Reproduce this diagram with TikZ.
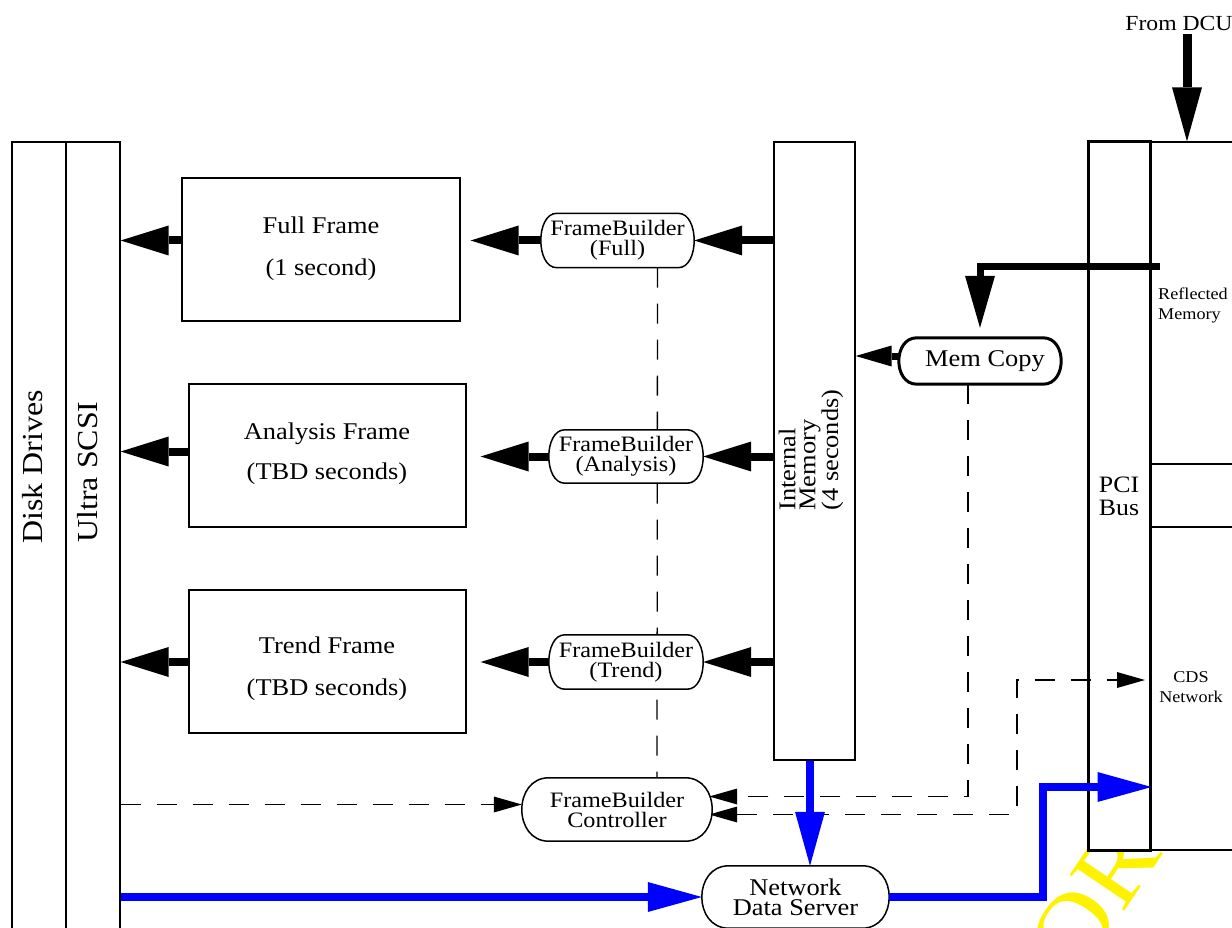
\documentclass[tikz,border=0pt]{standalone}
\usepackage{fontspec}
\setmainfont{Liberation Serif}[FakeStretch=1.1]
\usetikzlibrary{arrows.meta,calc}
\pgfdeclarelayer{mark}
\pgfdeclarelayer{under}
\pgfdeclarelayer{caps}
\pgfsetlayers{mark,under,caps,main}

\newcommand\fsz[2]{\fontsize{#1}{#2}\selectfont}

% outline of a pill-shaped node: straight top and bottom, half-elliptic ends
\newcommand\capsule[3][]{%
  \begin{pgfonlayer}{caps}
  \draw[fill=white,line width=1.5pt,#1]
    ($(#2.north west)+(#3,0)$) -- ($(#2.north east)+(-#3,0)$)
    .. controls ($(#2.north east)+(#3/3,0)$) and ($(#2.south east)+(#3/3,0)$) .. ($(#2.south east)+(-#3,0)$)
    -- ($(#2.south west)+(#3,0)$)
    .. controls ($(#2.south west)+(-#3/3,0)$) and ($(#2.north west)+(-#3/3,0)$) .. cycle;
  \end{pgfonlayer}}

\tikzset{
  box/.style={draw, line width=1.3pt, inner sep=0pt},
  pill/.style={inner sep=0pt, align=center, font=\fsz{22}{20}},
  bigarrow/.style={line width=8pt, -{Triangle[length=48pt,width=30pt,line width=0pt]}},
  midarrow/.style={line width=7pt, -{Triangle[length=36pt,width=21pt,line width=0pt]}},
  bluearrow/.style={blue, line width=8pt, -{Triangle[length=54pt,width=30pt,line width=0pt]}},
  dashline/.style={line width=1.3pt, dash pattern=on 20pt off 16pt},
  dasharrow/.style={dashline, -{Triangle[length=28pt,width=16pt,line width=0pt]}},
}

\begin{document}
\begin{tikzpicture}[x=1pt,y=-1pt,font=\fsz{22}{20}]
\useasboundingbox (0,0) rectangle (1232,928);
\clip (0,0) rectangle (1232,928);

% storage columns on the left
\node[box, minimum width=54pt, minimum height=800pt] (dd) at (39,542) {};
\node[box, minimum width=54pt, minimum height=800pt] (scsi) at (93,542) {};
\node[rotate=90, font=\fsz{29}{29}] (ddt) at (33,467) {Disk Drives};
\node[rotate=90, font=\fsz{29}{29}] (scsit) at (88,472) {Ultra SCSI};

% frame buffers
\node[box, minimum width=278pt, minimum height=143pt] (ff) at (321,249.5) {};
\node[font=\fsz{24}{42}, align=center] (fft) at (321,249) {Full Frame\\(1 second)};
\node[box, minimum width=277pt, minimum height=143pt] (af) at (327.5,455.5) {};
\node[font=\fsz{24}{40}, align=center] (aft) at (327,454) {Analysis Frame\\(TBD seconds)};
\node[box, minimum width=277pt, minimum height=143pt] (tf) at (327.5,661.5) {};
\node[font=\fsz{24}{42}, align=center] (tft) at (327,669) {Trend Frame\\(TBD seconds)};

% internal memory
\node[box, minimum width=81pt, minimum height=618pt] (im) at (814.5,451) {};
\node[rotate=90, align=left, font=\fsz{24}{20}] (imt) at (811,450) {Internal\\Memory\\(4 seconds)};

% processes
\node[pill, minimum width=153pt, minimum height=54pt] (fbf) at (617.5,240.5) {FrameBuilder\\(Full)};
\node[pill, minimum width=154pt, minimum height=53pt] (fba) at (626,456.5) {FrameBuilder\\(Analysis)};
\node[pill, minimum width=154pt, minimum height=54pt] (fbt) at (626,662) {FrameBuilder\\(Trend)};
\node[pill, minimum width=190pt, minimum height=63pt] (fbc) at (617,809.5) {FrameBuilder\\Controller};
\node[pill, minimum width=162pt, minimum height=46pt, font=\fsz{24}{24}] (mc) at (980,361) {\hspace*{10pt}Mem Copy};
\node[pill, minimum width=187pt, minimum height=62pt, font=\fsz{24}{20}] (nds) at (795.5,897) {Network\\Data Server};
\capsule{fbf}{16}
\capsule{fba}{16}
\capsule{fbt}{16}
\capsule{fbc}{27}
\capsule[line width=3pt]{mc}{18}
\capsule{nds}{27}

% bus side
\node[box, minimum width=100pt, minimum height=708pt] (rbox) at (1200,496) {};
\node[draw, line width=3pt, inner sep=0pt, minimum width=62pt, minimum height=708pt,
      align=center, font=\fsz{23.5}{23}] (pci) at (1119,496) {PCI\\Bus};
\draw[line width=1.3pt] (pci.east |- 0,464) -- (rbox.east |- 0,464);
\draw[line width=1.3pt] (pci.east |- 0,527) -- (rbox.east |- 0,527);
\node[font=\fsz{16.5}{20}, align=left] (rmt) at (1193,305) {Reflected\\Memory};
\node[font=\fsz{16.5}{20}, align=center] (cdst) at (1191,687) {CDS\\Network};
\node[font=\fsz{21.5}{22}] (dcu) at (1179,23) {From DCU};

% watermark, kept behind the bus boxes
\begin{pgfonlayer}{mark}
\node[yellow, rotate=56, inner sep=0pt, font=\fsz{100}{100}] (wm) at (1094,899) {OR};
\fill[white] (pci.north west) rectangle (rbox.south east);
\end{pgfonlayer}

% control paths
\begin{pgfonlayer}{under}
\draw[dashline] ($(fbf.south)+(40,0)$) -- ($(fbc.north)+(40,0)$);
\coordinate (ctlin) at ($(fbc.west)+(0,-5)$);
\draw[dasharrow] (scsi.east |- ctlin) -- (ctlin);
\coordinate (mcdown) at ($(mc.south)+(-12,0)$);
\coordinate (ctlr1) at ($(fbc.east)+(-3,-13)$);
\draw[dasharrow] (mcdown) |- (ctlr1);
\coordinate (ctlr2) at ($(fbc.east)+(-3,5)$);
\coordinate (cdsbend) at (1017,680);
\coordinate (cdsin) at (1145,680);
\draw[dashline, {Triangle[length=28pt,width=16pt,line width=0pt]}-{Triangle[length=28pt,width=16pt,line width=0pt]}]
  (ctlr2) -| (cdsbend) -- (cdsin);
\end{pgfonlayer}

% frames written to disk
\draw[bigarrow] (ff.west |- fbf.west) -- (scsi.east |- fbf.west);
\coordinate (aout) at ($(fba.west)+(0,-5)$);
\draw[bigarrow] (af.west |- aout) -- (scsi.east |- aout);
\draw[bigarrow] (tf.west |- fbt.west) -- (scsi.east |- fbt.west);

% frame builders fill the frames
\draw[bigarrow, shorten >=10pt] (fbf.west) -- (ff.east |- fbf.west);
\draw[bigarrow, shorten >=14pt] (fba.west) -- (af.east |- fba.west);
\draw[bigarrow, shorten >=14pt] (fbt.west) -- (tf.east |- fbt.west);

% internal memory feeds the frame builders
\draw[bigarrow] (im.west |- fbf.east) -- (fbf.east);
\draw[bigarrow] (im.west |- fba.east) -- (fba.east);
\draw[bigarrow] (im.west |- fbt.east) -- (fbt.east);

% memory copy
\coordinate (mcout) at ($(mc.west)+(0,-5)$);
\draw[midarrow] (mcout) -- (mcout -| im.east);
\coordinate (rmsrc) at (1160,267);
\draw[line width=7pt, -{Triangle[length=52pt,width=30pt,line width=0pt]}, shorten >=10pt] (rmsrc) -| (mc.north);

% input from the DCU
\coordinate (dcuout) at ([xshift=8pt]dcu.south);
\draw[line width=9pt, -{Triangle[length=54pt,width=30pt,line width=0pt]}] (dcuout) -- (dcuout |- rbox.north);

% data server paths
\coordinate (imout) at ([xshift=-4.5pt]im.south);
\draw[bluearrow] (imout) -- (imout |- nds.north);
\draw[bluearrow] (scsi.east |- nds.west) -- (nds.west);
\coordinate (pciin) at (pci.east |- 0,787);
\draw[bluearrow] (nds.east) -- ++(154,0) |- (pciin);
\end{tikzpicture}
\end{document}
